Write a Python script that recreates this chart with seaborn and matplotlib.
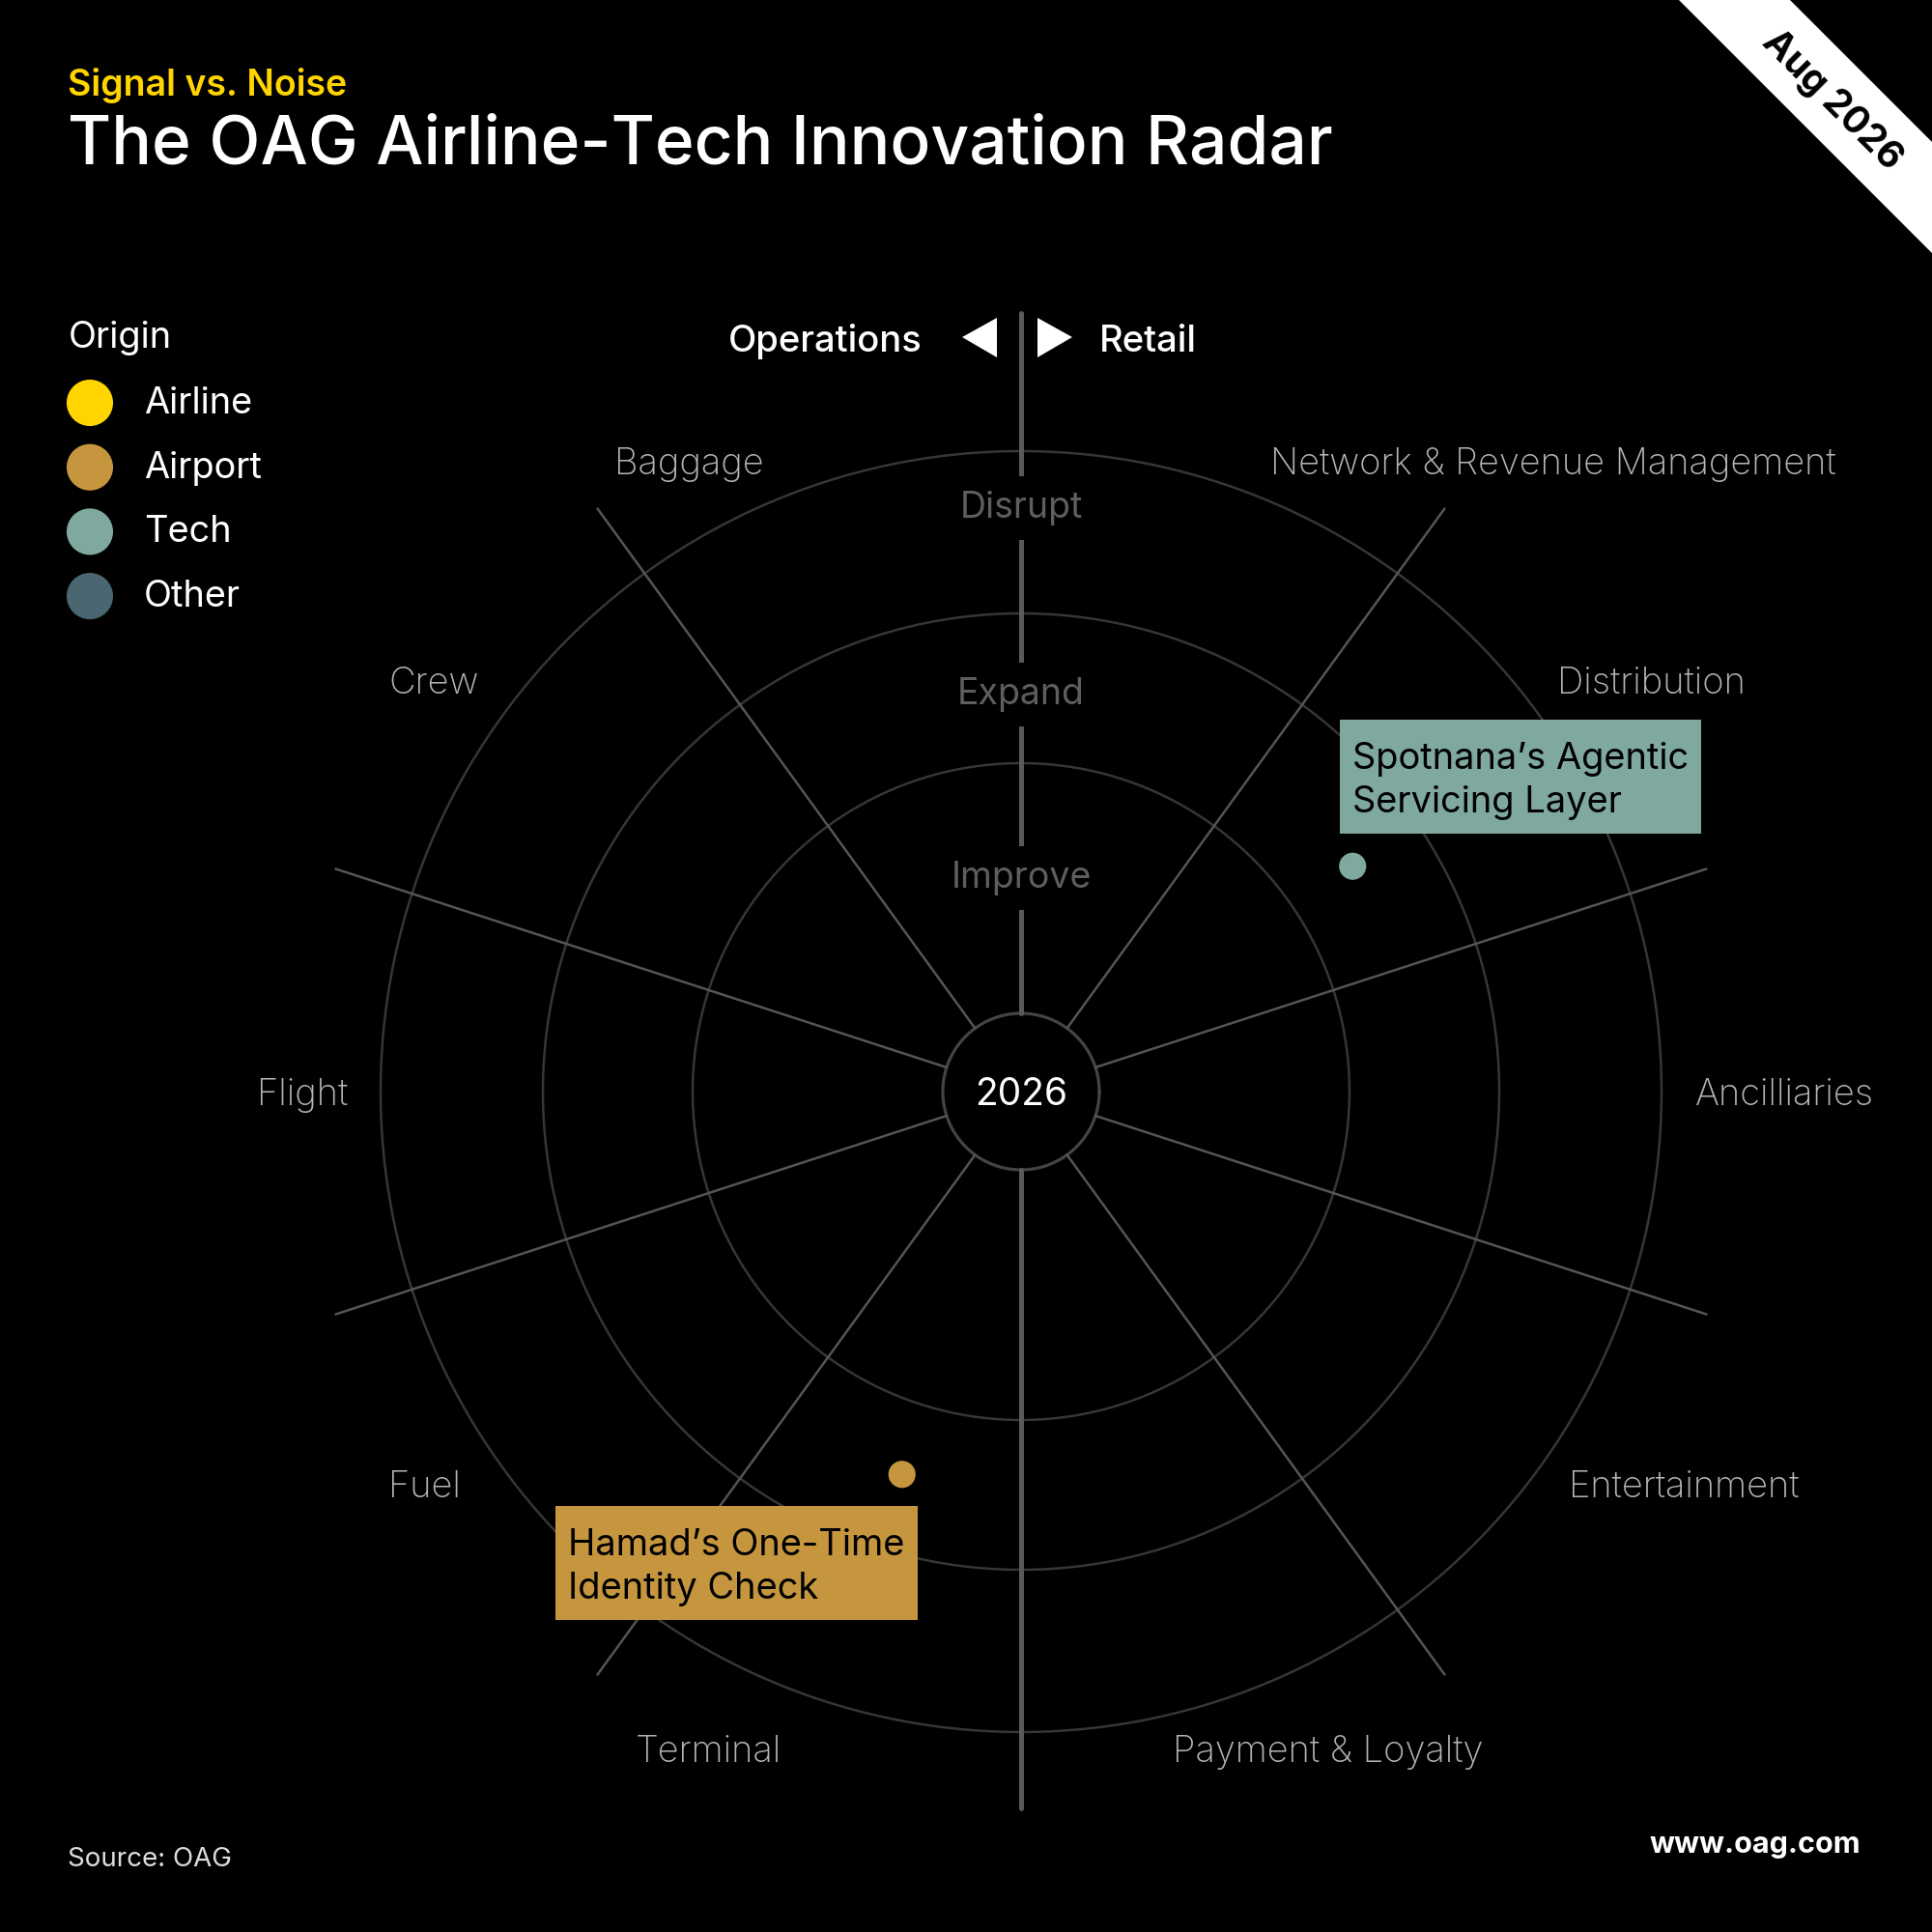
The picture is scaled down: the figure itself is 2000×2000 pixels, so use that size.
import numpy as np
import pandas as pd
import matplotlib.pyplot as plt
from matplotlib.path import Path
import seaborn as sns

# radar content
sectors = [
    "Network & Revenue Management",
    "Distribution",
    "Ancilliaries",
    "Entertainment",
    "Payment & Loyalty",
    "Terminal",
    "Fuel",
    "Flight",
    "Crew",
    "Baggage",
]
stages = ["Improve", "Expand", "Disrupt"]
origins = ["Airline", "Airport", "Tech", "Other"]
origin_colors = ["#FFD400", "#C6963E", "#7FA89F", "#4A6670"]

item_names = ["Spotnana’s Agentic\nServicing Layer", "Hamad’s One-Time\nIdentity Check"]
item_sector = ["Distribution", "Terminal"]
item_stage = ["Expand", "Expand"]
item_origin = ["Tech", "Airport"]
item_pos_in_sector = [0.45, 0.52]

# layout (pixels)
W = 2000
CX, CY = 1057, 1130
R_AX = 900
ring_radii = [81, 340, 495, 663]
stage_radii = [225, 415, 608]
spoke_end = 746
label_r = [702, 700, 698, 697, 698, 724, 708, 697, 704, 705]
label_nudge = [-3.6, 1.5, 0.0, 0.4, -5.0, -2.0, -1.0, 0.0, -1.2, 4.2]


def tag_box(x0, y0, width, height, mutation_size):
    # flat label box, a bit more room on top than on the sides
    px, top, bot = 0.34 * mutation_size, 0.61 * mutation_size, 0.37 * mutation_size
    x1, y1 = x0 - px, y0 - bot
    x2, y2 = x0 + width + px, y0 + height + top
    return Path([(x1, y1), (x2, y1), (x2, y2), (x1, y2), (x1, y1)], closed=True)


sns.set_theme(style="dark")
plt.rcParams["font.family"] = ["Inter", "DejaVu Sans"]

fig = plt.figure(figsize=(20, 20), dpi=100, facecolor="black")

# background axes in pixel units for titles, legend, ribbon
bg = fig.add_axes([0, 0, 1, 1], zorder=0)
bg.set_facecolor("black")

bg.text(70, 99, "Signal vs. Noise", color="#FFD400", fontsize=27,
        fontweight="semibold", va="baseline")
bg.text(70, 170, "The OAG Airline-Tech Innovation Radar", color="white",
        fontsize=50, fontweight="medium", va="baseline")

# corner ribbon
bg.fill([1738, 1853, 2000, 2000], [0, 0, 147, 262], color="white", lw=0)
bg.text(1896, 104, "Aug 2026", color="black", fontsize=28, fontweight="bold",
        rotation=-45, ha="center", va="center", rotation_mode="anchor")

# legend
bg.text(71, 360, "Origin", color="white", fontsize=27.3, va="baseline")
leg = pd.DataFrame({"origin": origins, "x": 93, "y": 417 + 66.7 * np.arange(len(origins))})
sns.scatterplot(data=leg, x="x", y="y", hue="origin", palette=origin_colors,
                s=1200, linewidth=0, legend=False, ax=bg)
for _, row in leg.iterrows():
    bg.text(149, row["y"] + 11, row["origin"], color="white", fontsize=27.3, va="baseline")

# operations / retail header
bg.text(955, 364, "Operations", color="white", fontsize=27.5, fontweight="medium",
        ha="right", va="baseline")
bg.text(1138, 364, "Retail", color="white", fontsize=27.5, fontweight="medium",
        ha="left", va="baseline")
bg.fill([996, 1032, 1032], [349, 329, 370], color="white", lw=0)
bg.fill([1110, 1074, 1074], [349, 329, 370], color="white", lw=0)

bg.text(70, 1932, "Source: OAG", color="#DDDDDD", fontsize=20, va="baseline")
bg.text(1926, 1918, "www.oag.com", color="white", fontsize=22, fontweight="bold",
        ha="right", va="baseline")

bg.set_xlim(0, W)
bg.set_ylim(W, 0)
bg.axis("off")

# polar radar
ax = fig.add_axes([(CX - R_AX) / W, (W - CY - R_AX) / W, 2 * R_AX / W, 2 * R_AX / W],
                  projection="polar", zorder=1)
ax.set_facecolor("none")
ax.grid(False)
ax.spines["polar"].set_visible(False)

n = len(sectors)
width = 2 * np.pi / n
centers = np.deg2rad(72) - width * np.arange(n)

full = np.linspace(0, 2 * np.pi, 400)
for r in ring_radii[1:]:
    ax.plot(full, np.full_like(full, r), color="#363636", lw=1.8, clip_on=False)
ax.plot(full, np.full_like(full, ring_radii[0]), color="#444444", lw=2.3, clip_on=False)

for c in centers:
    b = c - width / 2
    if np.isclose(np.cos(b), 0, atol=1e-6):
        continue
    ax.plot([b, b], [ring_radii[0], spoke_end], color="#555555", lw=1.8, clip_on=False)

# operations/retail divider
ax.plot([np.pi / 2] * 2, [ring_radii[0], 806], color="#5A5A5A", lw=3.6, clip_on=False)
ax.plot([-np.pi / 2] * 2, [ring_radii[0], 742], color="#5A5A5A", lw=3.6, clip_on=False)

for s, r in zip(stages, stage_radii):
    ax.text(np.pi / 2, r, s, color="#5E5E5E", fontsize=27, ha="center",
            va="center_baseline",
            bbox=dict(boxstyle="square,pad=0.4", fc="black", ec="none"))

ax.text(0, 0, "2026", color="white", fontsize=28, ha="center", va="center_baseline")

for i, name in enumerate(sectors):
    a = centers[i] + np.deg2rad(label_nudge[i])
    cs = np.cos(a)
    ha = "left" if cs > 0.05 else ("right" if cs < -0.05 else "center")
    ax.text(a, label_r[i], name, color="#B4B4B4", fontsize=27.4, fontweight="light",
            ha=ha, va="center_baseline")

# items
items = pd.DataFrame({
    "name": item_names,
    "sector": item_sector,
    "stage": item_stage,
    "origin": item_origin,
    "frac": item_pos_in_sector,
})
idx = items["sector"].map({s: i for i, s in enumerate(sectors)})
items["theta"] = centers[idx] - width / 2 + items["frac"] * width
items["r"] = items["stage"].map(dict(zip(stages, stage_radii)))
pal = dict(zip(origins, origin_colors))
sns.scatterplot(data=items, x="theta", y="r", hue="origin", palette=pal, s=410,
                linewidth=0, legend=False, ax=ax, zorder=5)

for _, it in items.iterrows():
    if np.cos(it["theta"]) > 0:
        off, ha, va = (0, 48), "left", "bottom"
    else:
        off, ha, va = (3, -56), "right", "top"
    ax.annotate(it["name"], xy=(it["theta"], it["r"]), xytext=off,
                textcoords="offset pixels", ha=ha, va=va, multialignment="left",
                fontsize=27.4, color="black", linespacing=1.32, zorder=6,
                bbox=dict(boxstyle=tag_box, fc=pal[it["origin"]], ec="none"))

ax.set_ylim(0, R_AX)
ax.set_xticks([])
ax.set_yticks([])
ax.set_xlabel("")
ax.set_ylabel("")

fig.savefig("out.png", dpi=100, facecolor="black")
